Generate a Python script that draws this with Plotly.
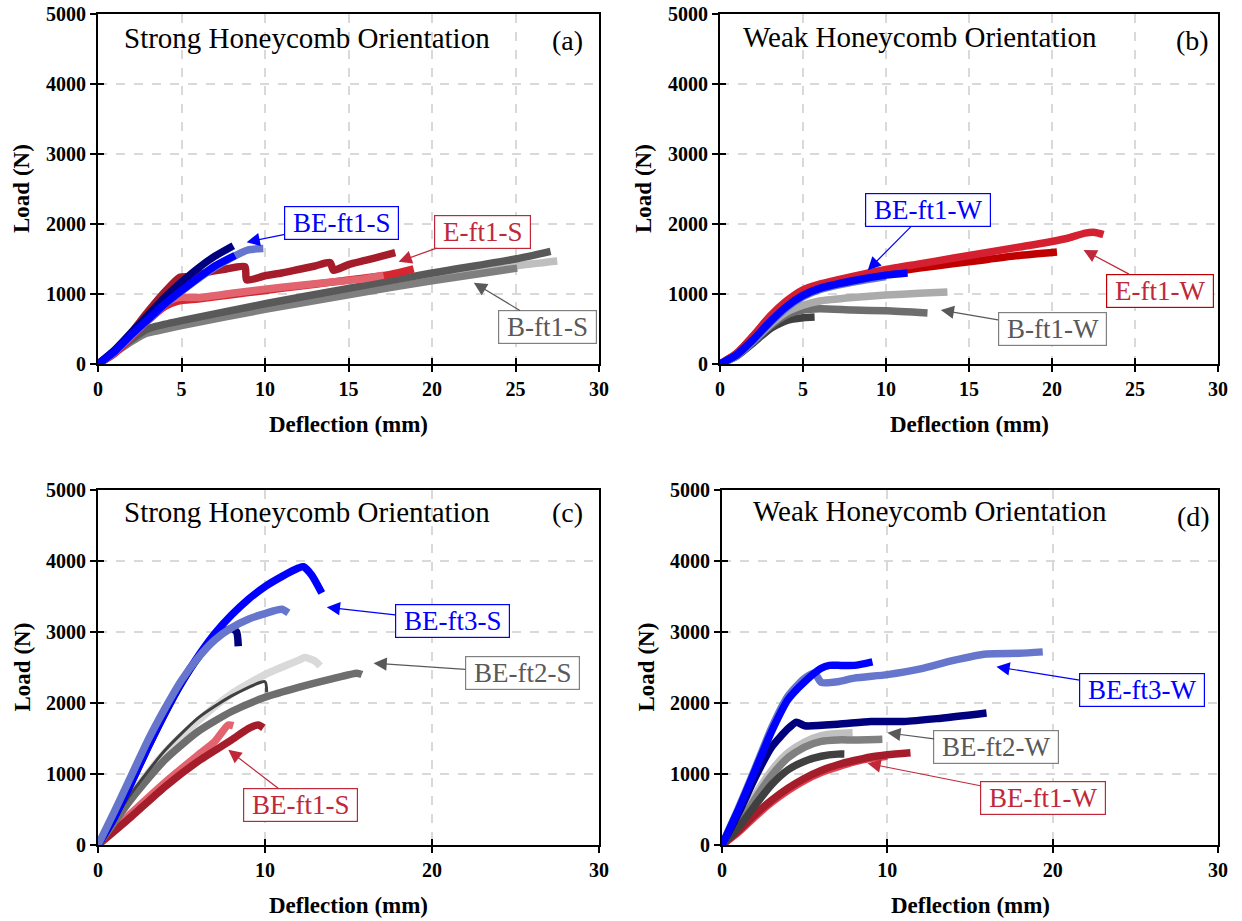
import plotly.graph_objects as go

# ---------------- data (Deflection mm, Load N) ----------------
# Panel (a) Strong, ft1
a_be_navy_x = [0, 1, 2, 3, 4, 5, 6, 7, 8.1]
a_be_navy_y = [0, 200, 450, 700, 950, 1170, 1370, 1540, 1690]
a_be_blue_x = [0, 1, 2, 3, 4, 5, 6, 7, 8.2]
a_be_blue_y = [0, 180, 420, 640, 860, 1050, 1230, 1400, 1550]
a_be_peri_x = [0, 1, 2, 3, 4, 5, 6, 7, 8, 9, 9.9]
a_be_peri_y = [0, 170, 400, 630, 850, 1040, 1220, 1380, 1520, 1630, 1650]
a_e_dark_x = [0, 1, 2, 3, 4, 4.9, 5.5, 6.5, 7.5, 8.8, 8.9, 10, 11, 12, 13, 13.9, 14.1, 15, 16, 17, 17.8]
a_e_dark_y = [0, 170, 450, 750, 1030, 1240, 1250, 1310, 1350, 1390, 1200, 1260, 1300, 1350, 1400, 1450, 1340, 1420, 1480, 1540, 1590]
a_e_red_x = [0, 1, 2, 3, 4, 4.8, 6, 8, 10, 12, 14, 16, 17.5, 18.9]
a_e_red_y = [0, 150, 380, 620, 820, 900, 930, 990, 1050, 1110, 1170, 1230, 1280, 1360]
a_e_pink_x = [0, 1, 2, 3, 4, 4.8, 6, 8, 10, 12, 14, 16, 17.1]
a_e_pink_y = [0, 170, 420, 680, 870, 950, 950, 1010, 1070, 1120, 1170, 1220, 1270]
a_b_dark_x = [0, 1, 2, 2.8, 3.5, 5, 10, 15, 20, 25, 27.1]
a_b_dark_y = [0, 170, 350, 480, 540, 620, 860, 1080, 1300, 1500, 1610]
a_b_light_x = [0, 1, 2, 2.8, 3.5, 5, 10, 15, 20, 25, 27.5]
a_b_light_y = [0, 160, 330, 440, 490, 570, 800, 1010, 1220, 1400, 1470]
a_b_mid_x = [0, 1, 2, 2.8, 3.5, 5, 10, 15, 20, 25.1]
a_b_mid_y = [0, 160, 320, 430, 470, 550, 780, 990, 1190, 1370]

# Panel (b) Weak, ft1
b_e_red_x = [0, 1, 2, 3, 4, 5, 6, 8, 10, 12, 14, 16, 18, 20, 21, 22, 22.6, 23.1]
b_e_red_y = [0, 150, 400, 680, 900, 1060, 1140, 1250, 1350, 1430, 1510, 1590, 1670, 1750, 1800, 1870, 1880, 1850]
b_e_dark_x = [0, 1, 2, 3, 4, 5, 6, 8, 10, 12, 14, 16, 18, 20.3]
b_e_dark_y = [0, 150, 400, 670, 880, 1030, 1110, 1220, 1300, 1370, 1430, 1490, 1550, 1600]
b_be_peri_x = [0, 1, 2, 3, 4, 5, 6, 8, 10]
b_be_peri_y = [0, 120, 330, 580, 800, 960, 1060, 1170, 1250]
b_be_blue_x = [0, 1, 2, 3, 4, 5, 6, 8, 10, 11.3]
b_be_blue_y = [0, 130, 350, 600, 820, 980, 1080, 1190, 1270, 1300]
b_b_light_x = [0, 1, 2, 3, 4, 5, 6, 8, 10, 12, 13.7]
b_b_light_y = [0, 120, 330, 560, 740, 840, 900, 950, 985, 1010, 1030]
b_b_mid_x = [0, 1, 2, 3, 4, 5, 6, 8, 10, 12.5]
b_b_mid_y = [0, 120, 320, 540, 700, 770, 790, 770, 760, 730]
b_b_dark_x = [0, 1, 2, 3, 4, 5, 5.7]
b_b_dark_y = [0, 110, 300, 500, 620, 660, 670]

# Panel (c) Strong, ft1-ft3
c_ft3_peri_x = [0, 1, 2, 3, 4, 5, 6, 7, 8, 9, 10, 11, 11.4]
c_ft3_peri_y = [0, 480, 980, 1480, 1920, 2320, 2640, 2890, 3060, 3180, 3260, 3320, 3270]
c_ft3_navy_x = [0, 1, 2, 3, 4, 5, 6, 7, 8, 8.3, 8.4]
c_ft3_navy_y = [0, 400, 880, 1380, 1850, 2280, 2640, 2920, 3050, 3000, 2800]
c_ft3_blue_x = [0, 1, 2, 3, 4, 5, 6, 7, 8, 9, 10, 11, 12, 12.3, 12.8, 13.4]
c_ft3_blue_y = [0, 400, 880, 1380, 1860, 2290, 2660, 2980, 3240, 3460, 3640, 3780, 3900, 3920, 3800, 3550]
c_ft2_light_x = [0, 2, 4, 6, 8, 10, 12, 12.4, 13, 13.3]
c_ft2_light_y = [0, 700, 1300, 1750, 2130, 2400, 2600, 2640, 2590, 2520]
c_ft2_dark_x = [0, 2, 4, 6, 8, 10, 10.1]
c_ft2_dark_y = [0, 730, 1330, 1790, 2100, 2300, 2150]
c_ft2_mid_x = [0, 2, 4, 6, 8, 10, 12, 14, 15.5, 15.8]
c_ft2_mid_y = [0, 650, 1200, 1600, 1880, 2080, 2220, 2340, 2420, 2400]
c_ft1_dark_x = [0, 2, 4, 6, 8, 9, 9.6, 9.9]
c_ft1_dark_y = [0, 400, 820, 1180, 1480, 1640, 1690, 1650]
c_ft1_pink_x = [0, 2, 4, 6, 7, 7.8, 8.1]
c_ft1_pink_y = [0, 450, 880, 1270, 1460, 1690, 1680]

# Panel (d) Weak, ft1-ft3
d_ft3_peri_x = [0, 1, 2, 3, 4, 5, 5.6, 6, 7, 8, 10, 12, 14, 16, 18, 19.4]
d_ft3_peri_y = [0, 520, 1080, 1650, 2100, 2350, 2420, 2290, 2300, 2350, 2400, 2480, 2600, 2690, 2700, 2720]
d_ft3_blue_x = [0, 1, 2, 3, 4, 5, 6, 6.5, 7, 8, 9.1]
d_ft3_blue_y = [0, 500, 1050, 1600, 2050, 2300, 2490, 2530, 2530, 2530, 2580]
d_ft3_navy_x = [0, 1, 2, 3, 4, 4.5, 5, 7, 9, 11, 13, 16]
d_ft3_navy_y = [0, 450, 950, 1380, 1640, 1730, 1680, 1700, 1740, 1740, 1780, 1860]
d_ft2_light_x = [0, 1, 2, 3, 4, 5, 6, 7, 7.9]
d_ft2_light_y = [0, 300, 700, 1050, 1300, 1450, 1540, 1570, 1580]
d_ft2_mid_x = [0, 1, 2, 3, 4, 5, 6, 7, 8, 9.7]
d_ft2_mid_y = [0, 280, 650, 980, 1230, 1380, 1460, 1480, 1480, 1490]
d_ft2_dark_x = [0, 1, 2, 3, 4, 5, 6, 7, 7.4]
d_ft2_dark_y = [0, 250, 560, 850, 1060, 1180, 1250, 1280, 1280]
d_ft1_red_x = [0, 1, 2, 3, 4, 5, 6, 7, 8, 9, 10]
d_ft1_red_y = [0, 180, 400, 600, 770, 910, 1020, 1100, 1170, 1220, 1250]
d_ft1_dark_x = [0, 1, 2, 3, 4, 5, 6, 7, 8, 9, 10, 11.4]
d_ft1_dark_y = [0, 200, 430, 630, 800, 940, 1050, 1130, 1190, 1240, 1270, 1300]

# tick values
y_ticks = [0, 1000, 2000, 3000, 4000, 5000]
x_ticks_top = [0, 5, 10, 15, 20, 25, 30]
x_ticks_bottom = [0, 10, 20, 30]

# colours
NAVY = "#00007F"
BLUE = "#0000FF"
PERI = "#6676CC"
DRED = "#A51C2B"
RED = "#D7262F"
PINK = "#E2646F"
DGRAY = "#595959"
MGRAY = "#7F7F7F"
LGRAY = "#BFBFBF"

SERIF = "Liberation Serif, Times New Roman, serif"
LW = 7.5

fig = go.Figure()


def add(xs, ys, color, k, width=LW):
    ax = "x" if k == 1 else f"x{k}"
    ay = "y" if k == 1 else f"y{k}"
    fig.add_trace(go.Scatter(x=xs, y=ys, mode="lines", xaxis=ax, yaxis=ay,
                             line=dict(color=color, width=width, shape="spline", smoothing=0.6),
                             showlegend=False, hoverinfo="skip"))


# (a)
add(a_b_light_x, a_b_light_y, LGRAY, 1)
add(a_b_mid_x, a_b_mid_y, MGRAY, 1)
add(a_b_dark_x, a_b_dark_y, DGRAY, 1)
add(a_e_red_x, a_e_red_y, RED, 1)
add(a_e_pink_x, a_e_pink_y, PINK, 1)
add(a_e_dark_x, a_e_dark_y, DRED, 1)
add(a_be_peri_x, a_be_peri_y, PERI, 1)
add(a_be_navy_x, a_be_navy_y, NAVY, 1)
add(a_be_blue_x, a_be_blue_y, BLUE, 1)
# (b)
add(b_b_dark_x, b_b_dark_y, "#404040", 2)
add(b_b_mid_x, b_b_mid_y, "#6E6E6E", 2)
add(b_b_light_x, b_b_light_y, "#ABABAB", 2)
add(b_e_dark_x, b_e_dark_y, "#C00000", 2)
add(b_e_red_x, b_e_red_y, "#D42030", 2)
add(b_be_peri_x, b_be_peri_y, PERI, 2)
add(b_be_blue_x, b_be_blue_y, BLUE, 2)
# (c)
add(c_ft1_pink_x, c_ft1_pink_y, PINK, 3)
add(c_ft1_dark_x, c_ft1_dark_y, DRED, 3)
add(c_ft2_light_x, c_ft2_light_y, "#D9D9D9", 3)
add(c_ft2_mid_x, c_ft2_mid_y, "#6E6E6E", 3)
add(c_ft2_dark_x, c_ft2_dark_y, "#404040", 3, width=3)
add(c_ft3_navy_x, c_ft3_navy_y, NAVY, 3)
add(c_ft3_blue_x, c_ft3_blue_y, BLUE, 3)
add(c_ft3_peri_x, c_ft3_peri_y, PERI, 3)
# (d)
add(d_ft1_red_x, d_ft1_red_y, "#E04050", 4)
add(d_ft1_dark_x, d_ft1_dark_y, DRED, 4)
add(d_ft2_light_x, d_ft2_light_y, "#C0C0C0", 4)
add(d_ft2_mid_x, d_ft2_mid_y, "#808080", 4)
add(d_ft2_dark_x, d_ft2_dark_y, "#404040", 4)
add(d_ft3_navy_x, d_ft3_navy_y, NAVY, 4)
add(d_ft3_peri_x, d_ft3_peri_y, PERI, 4)
add(d_ft3_blue_x, d_ft3_blue_y, BLUE, 4)

W, H = 1242, 921
# plot-area pixel boxes: (left, right, top, bottom)
boxes = {1: (98, 599, 14, 364), 2: (720, 1218, 14, 364),
         3: (98, 599, 490, 845), 4: (722, 1218, 490, 845)}

layout = dict(width=W, height=H, margin=dict(l=0, r=0, t=0, b=0, autoexpand=False),
              paper_bgcolor="white", plot_bgcolor="white",
              font=dict(family=SERIF, color="black"))

tickfont = dict(family=SERIF, size=20, color="black", weight="bold")

for k, (l, r, t, b) in boxes.items():
    xs = "" if k == 1 else str(k)
    xt = x_ticks_top if k <= 2 else x_ticks_bottom
    common = dict(showline=True, linecolor="black", linewidth=2, mirror=True,
                  ticks="outside", ticklen=6, tickwidth=2, tickcolor="black",
                  showgrid=True, gridcolor="#D9D9D9", gridwidth=1.5, griddash="dash",
                  zeroline=False, tickfont=tickfont, automargin=False)
    layout["xaxis" + xs] = dict(domain=[l / W, r / W], anchor="y" + xs, range=[0, 30],
                                tickvals=xt, ticktext=[str(v) for v in xt], **common)
    layout["yaxis" + xs] = dict(domain=[1 - b / H, 1 - t / H], anchor="x" + xs, range=[0, 5000],
                                tickvals=y_ticks, ticktext=[str(v) for v in y_ticks], **common)
    # overlay axes for inside half of crossing ticks
    ko = k + 4
    layout[f"xaxis{ko}"] = dict(domain=[l / W, r / W], anchor=f"y{ko}", range=[0, 30],
                                overlaying="x" + xs, tickvals=xt, ticks="inside", ticklen=6,
                                tickwidth=2, tickcolor="black", showticklabels=False,
                                showgrid=False, zeroline=False, showline=False, automargin=False)
    layout[f"yaxis{ko}"] = dict(domain=[1 - b / H, 1 - t / H], anchor=f"x{ko}", range=[0, 5000],
                                overlaying="y" + xs, tickvals=y_ticks, ticks="inside", ticklen=6,
                                tickwidth=2, tickcolor="black", showticklabels=False,
                                showgrid=False, zeroline=False, showline=False, automargin=False)
    fig.add_trace(go.Scatter(x=[None], y=[None], xaxis=f"x{ko}", yaxis=f"y{ko}",
                             showlegend=False, hoverinfo="skip"))

fig.update_layout(**layout)

ann = []
# panel titles and letters
titles = [(1, "Strong Honeycomb Orientation", 307, 38, "(a)", 567, 40),
          (2, "Weak Honeycomb Orientation", 920, 37, "(b)", 1192, 40),
          (3, "Strong Honeycomb Orientation", 307, 512, "(c)", 567, 512),
          (4, "Weak Honeycomb Orientation", 930, 511, "(d)", 1193, 516)]
for k, txt, cx, cy, let, lx, ly in titles:
    ann.append(dict(text=txt, x=cx / W, y=1 - cy / H, xref="paper", yref="paper",
                    showarrow=False, xanchor="center", yanchor="middle",
                    font=dict(family=SERIF, size=29, color="black")))
    ann.append(dict(text=let, x=lx / W, y=1 - ly / H, xref="paper", yref="paper",
                    showarrow=False, xanchor="center", yanchor="middle",
                    font=dict(family=SERIF, size=28, color="black")))

# axis titles
for (l, r, t, b) in boxes.values():
    ann.append(dict(text="<b>Deflection (mm)</b>", x=(l + r) / 2 / W, y=1 - (b + 60) / H,
                    xref="paper", yref="paper", showarrow=False, xanchor="center",
                    yanchor="middle", font=dict(family=SERIF, size=23, color="black")))
    ann.append(dict(text="<b>Load (N)</b>", x=(l - 76) / W, y=1 - (t + b) / 2 / H,
                    xref="paper", yref="paper", showarrow=False, textangle=-90,
                    xanchor="center", yanchor="middle",
                    font=dict(family=SERIF, size=23, color="black")))

# callouts: (panel, text, text color, border color, arrow color, box centre (data), arrow tip (data))
callouts = [
    (1, "BE-ft1-S", "#0000FF", "#0000FF", "#0000FF", (14.6, 2020), (8.9, 1740)),
    (1, "E-ft1-S", "#C0283A", "#C0283A", "#C0283A", (23.0, 1890), (18.0, 1460)),
    (1, "B-ft1-S", "#595959", "#808080", "#595959", (26.9, 530), (22.5, 1160)),
    (2, "BE-ft1-W", "#0000FF", "#0000FF", "#0000FF", (12.5, 2200), (8.9, 1340)),
    (2, "E-ft1-W", "#C0283A", "#C00000", "#C0283A", (26.5, 1050), (21.9, 1630)),
    (2, "B-ft1-W", "#595959", "#808080", "#595959", (20.0, 500), (13.3, 770)),
    (3, "BE-ft3-S", "#0000FF", "#0000FF", "#0000FF", (21.2, 3150), (13.7, 3350)),
    (3, "BE-ft2-S", "#595959", "#808080", "#595959", (25.4, 2420), (16.5, 2560)),
    (3, "BE-ft1-S", "#C0283A", "#C0283A", "#C0283A", (12.1, 560), (7.8, 1340)),
    (4, "BE-ft3-W", "#0000FF", "#0000FF", "#0000FF", (25.4, 2180), (16.6, 2510)),
    (4, "BE-ft2-W", "#595959", "#808080", "#595959", (16.6, 1380), (10.0, 1580)),
    (4, "BE-ft1-W", "#C0283A", "#C0283A", "#C0283A", (19.4, 660), (8.8, 1150)),
]
for k, txt, tc, bc, ac, (bx, by), (tx, ty) in callouts:
    xs = "x" if k == 1 else f"x{k}"
    ys = "y" if k == 1 else f"y{k}"
    ann.append(dict(text="&nbsp;" + txt + "&nbsp;", x=tx, y=ty, xref=xs, yref=ys,
                    ax=bx, ay=by, axref=xs, ayref=ys,
                    showarrow=True, arrowhead=2, arrowsize=2.2, arrowwidth=1.2, arrowcolor=ac,
                    font=dict(family=SERIF, size=27, color=tc), bgcolor="white",
                    bordercolor=bc, borderwidth=1.2, borderpad=1))

fig.update_layout(annotations=ann)
fig.write_html("out.html")
